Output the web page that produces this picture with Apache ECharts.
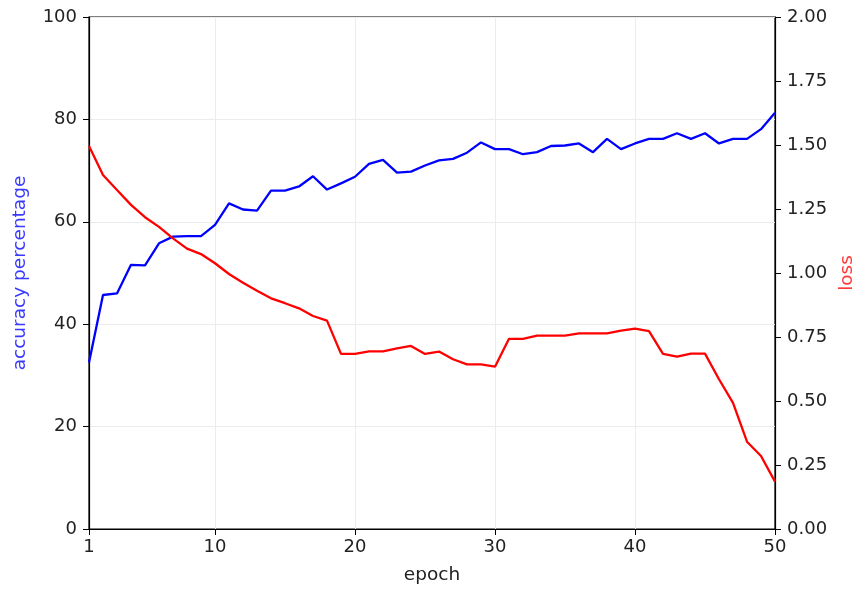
<!DOCTYPE html>
<html>
<head>
<meta charset="utf-8">
<script src="https://cdn.jsdelivr.net/npm/echarts@6/dist/echarts.min.js"></script>
<style>
  html, body { margin: 0; padding: 0; background: #fff; }
  #chart { width: 861px; height: 594px; }
</style>
</head>
<body>
<div id="chart"></div>
<script>
// epochs 1..50
const epochs = [1,2,3,4,5,6,7,8,9,10,11,12,13,14,15,16,17,18,19,20,21,22,23,24,25,
  26,27,28,29,30,31,32,33,34,35,36,37,38,39,40,41,42,43,44,45,46,47,48,49,50]
const accuracy = [32.5, 45.7, 46.0, 51.6, 51.5, 55.8, 57.1, 57.2, 57.2, 59.4,
  63.6, 62.4, 62.2, 66.1, 66.1, 66.9, 68.9, 66.3, 67.5, 68.8,
  71.3, 72.1, 69.6, 69.8, 71.0, 72.0, 72.3, 73.5, 75.5, 74.2,
  74.2, 73.2, 73.6, 74.8, 74.9, 75.3, 73.6, 76.2, 74.2, 75.3,
  76.2, 76.2, 77.3, 76.2, 77.3, 75.3, 76.2, 76.2, 78.1, 81.3]
const loss = [1.496, 1.383, 1.324, 1.266, 1.218, 1.180, 1.135, 1.095, 1.074, 1.038,
  0.996, 0.962, 0.931, 0.901, 0.882, 0.862, 0.832, 0.814, 0.684, 0.684,
  0.694, 0.694, 0.706, 0.715, 0.684, 0.693, 0.663, 0.643, 0.643, 0.634,
  0.743, 0.743, 0.755, 0.755, 0.755, 0.764, 0.764, 0.764, 0.775, 0.783,
  0.773, 0.684, 0.673, 0.685, 0.685, 0.585, 0.493, 0.341, 0.285, 0.185]
const xTicks = [1, 10, 20, 30, 40, 50]

const chart = echarts.init(document.getElementById('chart'))
const font = 'DejaVu Sans'
const fs = 18
const tickText = { color: '#222', fontSize: fs, fontFamily: font }

chart.setOption({
  animation: false,
  grid: {
    left: 89, right: 86, top: 17, bottom: 65,
    outerBoundsMode: 'none',
    show: true, borderColor: '#000', borderWidth: 1.2,
  },
  xAxis: {
    type: 'value', min: 1, max: 50,
    name: 'epoch', nameLocation: 'middle', nameGap: 37,
    nameTextStyle: { color: '#222', fontSize: 18.5, fontFamily: font },
    axisLine: { lineStyle: { color: '#000', width: 1.2 } },
    axisTick: { show: true, length: 6, customValues: xTicks, lineStyle: { color: '#000' } },
    axisLabel: { ...tickText, margin: 9, customValues: xTicks },
    splitLine: { show: false },
  },
  yAxis: [
    {
      type: 'value', min: 0, max: 100, interval: 20, position: 'left',
      name: 'accuracy percentage', nameLocation: 'middle', nameGap: 59, nameRotate: 90,
      nameTextStyle: { color: '#3a3aff', fontSize: 18.5, fontFamily: font },
      axisLine: { show: true, lineStyle: { color: '#000', width: 1.2 } },
      axisTick: { show: true, length: 6, lineStyle: { color: '#000' } },
      axisLabel: { ...tickText, margin: 12 },
      splitLine: { show: true, lineStyle: { color: '#ececec', width: 1 } },
    },
    {
      type: 'value', min: 0, max: 2, interval: 0.25, position: 'right',
      name: 'loss', nameLocation: 'middle', nameGap: 62, nameRotate: 90,
      nameTextStyle: { color: '#ff3a3a', fontSize: 18.5, fontFamily: font },
      axisLine: { show: true, lineStyle: { color: '#000', width: 1.2 } },
      axisTick: { show: true, length: 6, lineStyle: { color: '#000' } },
      axisLabel: { ...tickText, margin: 12, formatter: v => v.toFixed(2) },
      splitLine: { show: false },
    },
  ],
  series: [
    {
      // vertical grid lines at the x ticks
      type: 'line', data: [], z: 1, silent: true,
      markLine: {
        z: 1, silent: true, symbol: 'none', label: { show: false },
        lineStyle: { color: '#ececec', width: 1, type: 'solid' },
        data: xTicks.slice(1, -1).map(v => ({ xAxis: v })),
      },
    },
    {
      name: 'accuracy', type: 'line', yAxisIndex: 0, z: 3,
      data: epochs.map((e, i) => [e, accuracy[i]]),
      showSymbol: false,
      lineStyle: { color: '#0000ff', width: 2.3 },
      itemStyle: { color: '#0000ff' },
    },
    {
      name: 'loss', type: 'line', yAxisIndex: 1, z: 3,
      data: epochs.map((e, i) => [e, loss[i]]),
      showSymbol: false,
      lineStyle: { color: '#ff0000', width: 2.3 },
      itemStyle: { color: '#ff0000' },
    },
  ],
})
</script>
</body>
</html>
